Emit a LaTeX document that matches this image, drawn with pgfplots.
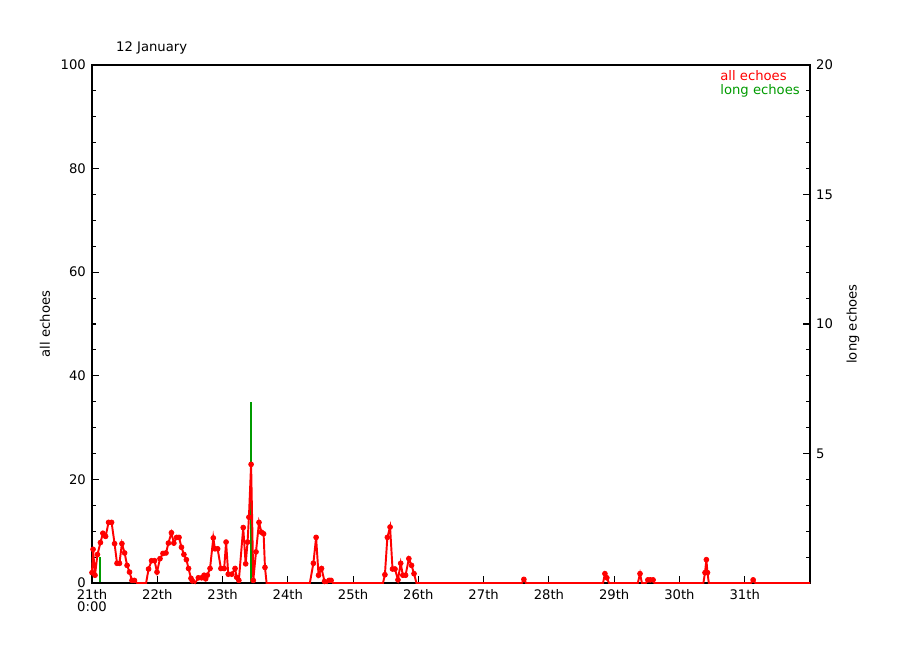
\documentclass[border=0pt]{standalone}
\usepackage{pgfplots}
\pgfplotsset{compat=1.18}
\usepackage{pgfplotstable}
\usepackage{fontspec}
\setmainfont{DejaVu Sans}

\definecolor{echored}{RGB}{255,0,0}
\definecolor{echogreen}{RGB}{0,155,0}

% all echoes, x in hours from 21th 0:00
\pgfplotstableread{
h v
0 2
0.4 6.5
1.1 1.5
2.0 5.5
3.1 7.8
4.0 9.6
5.0 9
6.1 11.7
7.2 11.7
8.3 7.6
9.2 3.8
10.1 3.8
11.0 7.6
12.0 5.8
12.9 3.4
13.8 2.1
14.7 0.5
15.6 0.5
16.5 0
19.9 0
20.8 2.7
21.9 4.3
23.0 4.3
23.9 2.1
25.0 4.7
26.1 5.7
27.2 5.8
28.1 7.7
29.2 9.7
30.1 7.7
31.1 8.8
32.0 8.8
32.9 6.9
33.8 5.5
34.7 4.5
35.5 2.8
36.4 0.9
36.9 0.4
37.9 0
39.1 1
40.3 1
41.2 1.5
41.8 0.8
42.4 1.5
43.4 2.8
44.6 8.7
45.2 6.6
46.2 6.6
47.4 2.8
48.6 2.8
49.3 7.9
50.1 1.7
51.4 1.7
52.6 2.8
53.2 1.1
54.0 0.5
55.6 10.7
56.5 3.7
57.2 7.9
57.7 12.7
58.5 22.9
59.3 0.5
60.3 6
61.4 11.7
62.3 9.8
63.1 9.5
63.6 3
64.2 0
80.1 0
81.4 3.8
82.4 8.8
83.3 1.5
84.4 2.8
85.5 0.3
86.4 0
87.2 0.5
87.9 0.5
88.6 0
107.0 0
107.7 1.6
108.6 8.8
109.6 10.8
110.5 2.7
111.4 2.7
112.5 0.6
113.5 3.8
114.3 1.5
115.3 1.5
116.5 4.7
117.5 3.4
118.4 1.8
119.3 0
158.1 0
158.8 0.7
159.6 0
187.9 0
188.6 1.8
189.3 1
190.1 0
200.7 0
201.5 1.8
202.2 0
203.7 0
204.4 0.6
205.3 0.6
206.3 0.6
206.8 0
224.8 0
225.4 2
225.9 4.5
226.3 2
226.8 0
242.3 0
243.1 0.6
243.9 0
264 0
}\alldata

\begin{document}
\begin{tikzpicture}
\pgfplotsset{
  every axis/.append style={
    scale only axis, width=14.36cm, height=10.36cm,
    xmin=0, xmax=264,
    font=\fontsize{7.5}{9}\selectfont,
    /pgf/number format/assume math mode=true,
    tick align=inside,
    major tick length=4pt, minor tick length=2.3pt,
    tick style={black, line width=0.6pt},
    axis line style={line width=0.6pt},
  },
}
% right scale: long echoes
\begin{axis}[
  axis y line*=right, axis x line=none,
  ymin=0, ymax=20,
  ytick={5,10,15,20},
  minor ytick={1,2,3,4,6,7,8,9,11,12,13,14,16,17,18,19},
  ylabel={long echoes},
  ylabel style={at={(axis description cs:1.06,0.5)}, anchor=center},
]
\addplot[ycomb, echogreen, line width=1pt, mark=none] coordinates {(2.9,1) (58.6,7)};
\end{axis}
% left scale: all echoes
\begin{axis}[
  ymin=0, ymax=100,
  ytick={0,20,...,100}, minor y tick num=3,
  ytick pos=left, xtick pos=bottom,
  xtick={0,24,...,240},
  xticklabels={{21th\\0:00},22th,23th,24th,25th,26th,27th,28th,29th,30th,31th},
  xticklabel style={align=center, font=\fontsize{7.5}{6.8}\selectfont},
  ylabel={all echoes},
  ylabel style={at={(axis description cs:-0.0655,0.5)}, anchor=center},
  clip=false,
]
\addplot[echored, line width=1.1pt, mark=none] table {\alldata};
\addplot[echored, only marks, mark=*, mark size=1.4pt,
  y filter/.expression={y==0 ? nan : y}] table {\alldata};
\node[anchor=base west] at (rel axis cs:0,1) [xshift=0.36cm, yshift=0.26cm] {12 January};
\node[anchor=north west, align=left, inner sep=0pt,
  font=\fontsize{7.5}{7.9}\selectfont]
  at (rel axis cs:0.8747,0.99) {\textcolor{echored}{all echoes}\\\textcolor{echogreen}{long echoes}};
\end{axis}
\pgfresetboundingbox
\path[use as bounding box] (-1.84cm,-1.34cm) rectangle (16.16cm,11.66cm);
\end{tikzpicture}
\end{document}
